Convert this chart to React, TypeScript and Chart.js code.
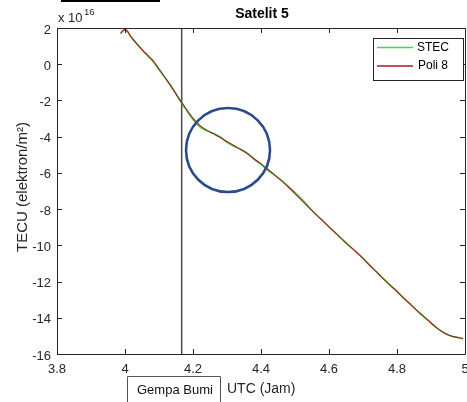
import React, { useEffect, useRef } from "react";
import { Chart, registerables } from "chart.js";

Chart.register(...registerables);

// ---- data ----
const timeHours = [
  3.987, 4.0, 4.02, 4.04, 4.06, 4.08, 4.1, 4.12, 4.14, 4.16, 4.18, 4.2, 4.22, 4.24, 4.26, 4.28,
  4.3, 4.32, 4.34, 4.36, 4.38, 4.4, 4.42, 4.44, 4.46, 4.48, 4.5, 4.52, 4.54, 4.56, 4.58, 4.6,
  4.62, 4.64, 4.66, 4.68, 4.7, 4.72, 4.74, 4.76, 4.78, 4.8, 4.82, 4.84, 4.86, 4.88, 4.9, 4.92,
  4.94, 4.96, 4.98, 4.994,
];
const stecValues = [
  1.68, 1.94, 1.43, 1.03, 0.59, 0.2, -0.3, -0.79, -1.32, -1.95, -2.52, -3.06, -3.46, -3.67, -3.81, -4.02,
  -4.32, -4.53, -4.69, -4.91, -5.27, -5.52, -5.86, -6.12, -6.41, -6.74, -7.08, -7.44, -7.86, -8.27, -8.61, -8.98,
  -9.32, -9.7, -10.04, -10.36, -10.71, -11.11, -11.48, -11.84, -12.21, -12.54, -12.93, -13.26, -13.63, -13.96, -14.28, -14.61,
  -14.84, -15.02, -15.09, -15.16,
];
const poli8Values = [
  1.72, 1.91, 1.47, 1.0, 0.62, 0.25, -0.25, -0.8, -1.36, -1.93, -2.47, -2.98, -3.38, -3.64, -3.84, -4.05,
  -4.27, -4.49, -4.71, -4.94, -5.22, -5.5, -5.8, -6.11, -6.43, -6.78, -7.14, -7.52, -7.9, -8.26, -8.62, -8.98,
  -9.34, -9.69, -10.03, -10.37, -10.72, -11.1, -11.47, -11.85, -12.2, -12.55, -12.92, -13.27, -13.62, -13.95, -14.29, -14.6,
  -14.85, -15.01, -15.1, -15.15,
];
const xTickValues = [3.8, 4, 4.2, 4.4, 4.6, 4.8, 5];
const yTickValues = [2, 0, -2, -4, -6, -8, -10, -12, -14, -16];
const earthquakeHour = 4.1667;
const highlightCenter = { x: 4.303, y: -4.74 };
const seriesNames = ["STEC", "Poli 8"];

const FONT = "'Liberation Sans', Arial, Helvetica, sans-serif";
const AXIS = "#262626";
const GREEN = "#3fdc3f";
const RED = "#a51c24";

const decorPlugin = {
  id: "decor",
  afterDatasetsDraw(chart: any) {
    const { ctx, chartArea, scales } = chart;
    const { left, right, top, bottom } = chartArea;
    const xs = scales.x;
    const ys = scales.y;
    ctx.save();
    // axes box
    ctx.strokeStyle = AXIS;
    ctx.lineWidth = 1;
    ctx.beginPath();
    ctx.rect(Math.round(left) + 0.5, Math.round(top) + 0.5, Math.round(right - left), Math.round(bottom - top));
    ctx.stroke();
    // inward ticks
    const tl = 5;
    ctx.beginPath();
    xTickValues.forEach((v) => {
      const px = Math.round(xs.getPixelForValue(v)) + 0.5;
      ctx.moveTo(px, bottom);
      ctx.lineTo(px, bottom - tl);
      ctx.moveTo(px, top);
      ctx.lineTo(px, top + tl);
    });
    yTickValues.forEach((v) => {
      const py = Math.round(ys.getPixelForValue(v)) + 0.5;
      ctx.moveTo(left, py);
      ctx.lineTo(left + tl, py);
      ctx.moveTo(right, py);
      ctx.lineTo(right - tl, py);
    });
    ctx.stroke();

    // legend
    const lx = 373, ly = 38, lw = 90, lh = 42;
    ctx.fillStyle = "#ffffff";
    ctx.fillRect(lx, ly, lw, lh);
    ctx.strokeStyle = AXIS;
    ctx.strokeRect(lx + 0.5, ly + 0.5, lw, lh);
    ctx.lineWidth = 1.5;
    ctx.strokeStyle = GREEN;
    ctx.beginPath();
    ctx.moveTo(377, 47.5);
    ctx.lineTo(413, 47.5);
    ctx.stroke();
    ctx.strokeStyle = RED;
    ctx.lineWidth = 1.3;
    ctx.beginPath();
    ctx.moveTo(377, 66);
    ctx.lineTo(413, 66);
    ctx.stroke();
    ctx.fillStyle = "#000";
    ctx.font = `12px ${FONT}`;
    ctx.textBaseline = "middle";
    ctx.textAlign = "left";
    ctx.fillText(seriesNames[0], 417, 48);
    ctx.fillText(seriesNames[1], 418, 66);

    // highlight circle
    const cx = xs.getPixelForValue(highlightCenter.x);
    const cy = ys.getPixelForValue(highlightCenter.y);
    ctx.strokeStyle = "#2a4a8e";
    ctx.lineWidth = 2.6;
    ctx.beginPath();
    ctx.arc(cx, cy, 42, 0, Math.PI * 2);
    ctx.stroke();

    // title
    ctx.fillStyle = "#000";
    ctx.font = `bold 14px ${FONT}`;
    ctx.textAlign = "center";
    ctx.fillText("Satelit 5", (left + right) / 2 + 1, 14);

    // exponent
    ctx.fillStyle = AXIS;
    ctx.textAlign = "left";
    ctx.font = `13px ${FONT}`;
    ctx.fillText("x 10", 58, 18);
    ctx.font = `9.5px ${FONT}`;
    ctx.fillText("16", 84, 12);

    // y title
    ctx.save();
    ctx.translate(23, 187);
    ctx.rotate(-Math.PI / 2);
    ctx.font = `15px ${FONT}`;
    ctx.textAlign = "center";
    ctx.fillText("TECU (elektron/m\u00B2)", 0, 0);
    ctx.restore();

    // x title
    ctx.textAlign = "left";
    ctx.font = `14px ${FONT}`;
    ctx.fillText("UTC (Jam)", 227, 389);

    // earthquake box
    ctx.strokeStyle = "#555";
    ctx.lineWidth = 1;
    ctx.beginPath();
    ctx.moveTo(127.5, 402);
    ctx.lineTo(127.5, 376.5);
    ctx.lineTo(220.5, 376.5);
    ctx.lineTo(220.5, 402);
    ctx.stroke();
    ctx.fillStyle = "#111";
    ctx.font = `13px ${FONT}`;
    ctx.fillText("Gempa Bumi", 137, 390);
    ctx.restore();
  },
};

export default function App() {
  const ref = useRef<HTMLCanvasElement | null>(null);
  useEffect(() => {
    if (!ref.current) return;
    const chart = new Chart(ref.current, {
      type: "line",
      data: {
        datasets: [
          {
            label: seriesNames[1],
            data: timeHours.map((t, i) => ({ x: t, y: poli8Values[i] })),
            borderColor: RED,
            borderWidth: 1.1,
            pointRadius: 0,
            cubicInterpolationMode: "monotone",
            order: 0,
          },
          {
            label: seriesNames[0],
            data: timeHours.map((t, i) => ({ x: t, y: stecValues[i] })),
            borderColor: GREEN,
            borderWidth: 1.6,
            pointRadius: 0,
            cubicInterpolationMode: "monotone",
            order: 1,
          },
          {
            label: "Gempa Bumi",
            data: [
              { x: earthquakeHour, y: yTickValues[0] },
              { x: earthquakeHour, y: yTickValues[yTickValues.length - 1] },
            ],
            borderColor: "#4a4a4a",
            borderWidth: 1.5,
            pointRadius: 0,
            order: 2,
          },
        ],
      },
      options: {
        animation: false,
        responsive: false,
        devicePixelRatio: 1,
        layout: { padding: { left: 0, top: 28, right: 2, bottom: 0 } },
        plugins: { legend: { display: false }, tooltip: { enabled: false }, title: { display: false } },
        scales: {
          x: {
            type: "linear",
            min: xTickValues[0],
            max: xTickValues[xTickValues.length - 1],
            grid: { display: false, drawTicks: false },
            border: { display: false },
            afterBuildTicks: (s: any) => {
              s.ticks = xTickValues.map((v) => ({ value: v }));
            },
            afterFit: (s: any) => {
              s.height = 48;
              s.paddingLeft = 0;
              s.paddingRight = 0;
            },
            ticks: {
              padding: 8,
              color: AXIS,
              font: { family: FONT, size: 13 },
              maxRotation: 0,
              autoSkip: false,
              callback: (v: any) => String(Number(Number(v).toFixed(1))),
            },
          },
          y: {
            type: "linear",
            min: yTickValues[yTickValues.length - 1],
            max: yTickValues[0],
            grid: { display: false, drawTicks: false },
            border: { display: false },
            afterBuildTicks: (s: any) => {
              s.ticks = yTickValues.map((v) => ({ value: v }));
            },
            afterFit: (s: any) => {
              s.width = 57;
              s.paddingTop = 0;
              s.paddingBottom = 0;
            },
            ticks: {
              padding: 6,
              labelOffset: 2,
              color: AXIS,
              font: { family: FONT, size: 13 },
              autoSkip: false,
              callback: (v: any) => String(v),
            },
          },
        },
      },
      plugins: [decorPlugin],
    } as any);
    return () => chart.destroy();
  }, []);

  return (
    <div style={{ position: "fixed", left: 0, top: 0, width: 467, height: 402, background: "#fff" }}>
      <div style={{ position: "absolute", left: 61, top: 0, width: 99, height: 2, background: "#000" }} />
      <canvas ref={ref} width={467} height={402} style={{ position: "absolute", left: 0, top: 0 }} />
    </div>
  );
}
